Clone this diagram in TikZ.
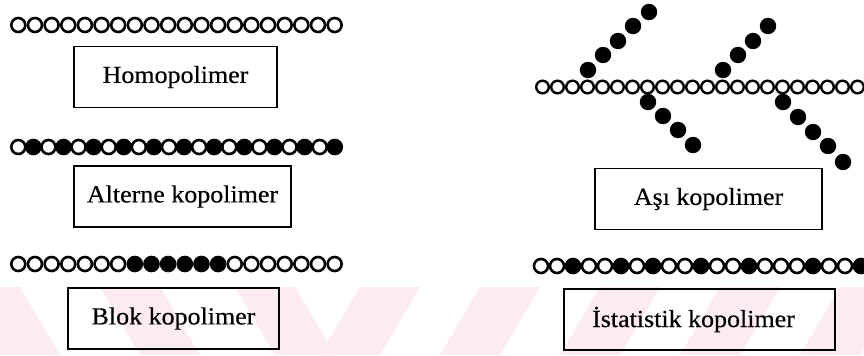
\documentclass[tikz,border=0pt]{standalone}
\usepackage{fontspec}
\usepackage{graphicx}
\setmainfont{Liberation Serif}
\definecolor{wmpink}{RGB}{252,235,239}
\begin{document}
\begin{tikzpicture}[x=1bp,y=-1bp,
  w bead/.style={circle,draw=black,fill=white,line width=2.6bp,minimum size=14bp,inner sep=0pt,outer sep=0pt},
  b bead/.style={circle,draw=black,fill=black,line width=2.6bp,minimum size=14bp,inner sep=0pt,outer sep=0pt},
  bb bead/.style={circle,draw=black,fill=white,line width=2.4bp,minimum size=12.6bp,inner sep=0pt,outer sep=0pt},
  g bead/.style={circle,fill=black,minimum size=16.4bp,inner sep=0pt,outer sep=0pt},
  label box/.style={draw=black,line width=1.6bp,minimum height=61bp,inner sep=0pt,
    font=\fontsize{24.5bp}{28bp}\selectfont\addfontfeatures{FakeBold=0.4}}
]
\useasboundingbox (0,0) rectangle (864,355);

% faint diagonal stripes along the bottom edge
\begin{scope}
  \clip (0,287) rectangle (864,355);
  \foreach \a in {-40,100,235}
    \fill[wmpink] (\a,287) -- (\a+60,287) -- (\a+100,355) -- (\a+40,355) -- cycle;
  \foreach \a in {360,480,600,720,840}
    \fill[wmpink] (\a,287) -- (\a+60,287) -- (\a+20,355) -- (\a-40,355) -- cycle;
\end{scope}

% homopolymer chain
\foreach \i in {0,...,19}
  \node[w bead] (h\i) at (18.3+16.65*\i,25) {};

% alternating copolymer chain
\foreach \i in {0,...,21}{
  \ifodd\i
    \node[b bead] (a\i) at (18.3+15.07*\i,147) {};
  \else
    \node[w bead] (a\i) at (18.3+15.07*\i,147) {};
  \fi
}

% block copolymer chain
\foreach \s [count=\i from 0] in {w,w,w,w,w,w,w,b,b,b,b,b,b,w,w,w,w,w,w,w}
  \node[\s\space bead] (k\i) at (18.3+16.65*\i,264) {};

% statistical copolymer chain
\foreach \s [count=\i from 0] in {w,w,b,w,w,b,w,b,w,w,b,w,w,b,w,w,w,b,w,w,b}
  \node[\s\space bead] (s\i) at (541+16*\i,266) {};

% graft copolymer: side chains first, backbone on top
\foreach \p [count=\i] in {(588,70),(603,55),(618,41),(633,26),(649,12),
                           (723,70),(738,55),(753,41),(768,26),
                           (648,102),(663,116),(678,130),(693,145),
                           (783,102),(798,117),(813,132),(828,146),(843,162)}
  \node[g bead] (g\i) at \p {};
\foreach \i in {0,...,21}
  \node[bb bead] (m\i) at (542.5+15*\i,87) {};

% labels
\node[label box, minimum width=203bp] (homo) at (175.5,77)
  {\scalebox{1.06}[1]{Homopolimer}};
\node[label box, minimum width=217bp] (alt) at (182.5,196.5)
  {\scalebox{1.06}[1]{Alterne kopolimer}};
\node[label box, minimum width=211bp] (blok) at (173.5,318.5)
  {\scalebox{1.06}[1]{Blok kopolimer}};
\node[label box, minimum width=227bp] (asi) at (708.5,199)
  {\scalebox{1.06}[1]{Aşı kopolimer}};
\node[label box, minimum width=271bp] (ist) at (699.5,319.5)
  {\scalebox{1.06}[1]{İstatistik kopolimer}\hspace*{12bp}};
\end{tikzpicture}
\end{document}
